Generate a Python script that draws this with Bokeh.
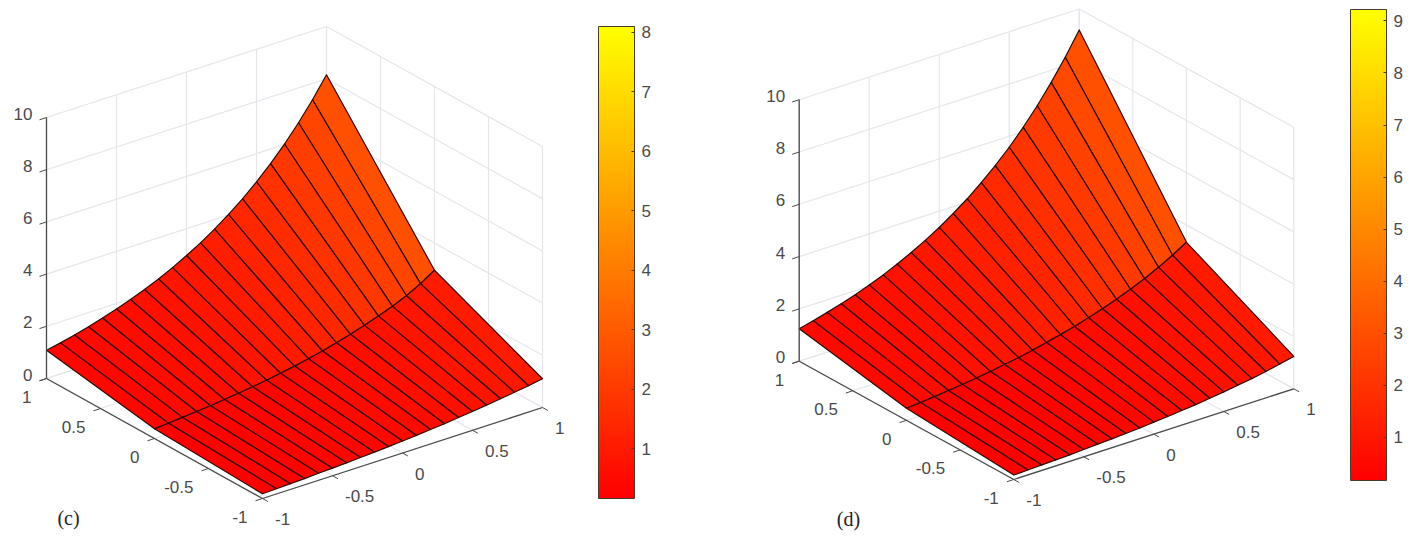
from bokeh.plotting import figure
from bokeh.layouts import row
from bokeh.models import ColumnDataSource, LinearColorMapper, ColorBar, FixedTicker
from bokeh.core.properties import value
from bokeh.embed import file_html
from bokeh.resources import INLINE

# ---- data ----
x_grid = [-1.0, -0.9, -0.8, -0.7, -0.6, -0.5, -0.4, -0.3, -0.2, -0.1, 0.0,
          0.1, 0.2, 0.3, 0.4, 0.5, 0.6, 0.7, 0.8, 0.9, 1.0]
y_grid = [-1.0, 0.0, 1.0]

c_z_ym1 = [.18, .20, .22, .24, .27, .29, .32, .35, .38, .42, .46, .50, .55, .60, .66, .72, .79, .86, .93, 1.01, 1.10]
c_z_y0 = [.37, .41, .46, .51, .56, .62, .69, .76, .84, .93, 1.03, 1.14, 1.26, 1.40, 1.55, 1.72, 1.90, 2.10, 2.33, 2.62, 2.96]
c_z_y1 = [1.08, 1.19, 1.32, 1.46, 1.62, 1.79, 1.98, 2.19, 2.42, 2.68, 2.97, 3.28, 3.63, 4.02, 4.44, 4.92, 5.44, 6.02, 6.66, 7.37, 8.15]

d_z_ym1 = [.17, .19, .21, .23, .25, .28, .31, .34, .37, .41, .46, .50, .56, .61, .68, .75, .83, .91, 1.01, 1.12, 1.24]
d_z_y0 = [.46, .51, .56, .62, .68, .75, .83, .92, 1.01, 1.12, 1.24, 1.37, 1.51, 1.67, 1.84, 2.03, 2.24, 2.47, 2.73, 3.02, 3.34]
d_z_y1 = [1.24, 1.37, 1.52, 1.68, 1.85, 2.05, 2.26, 2.50, 2.77, 3.06, 3.38, 3.74, 4.13, 4.57, 5.05, 5.58, 6.17, 6.82, 7.54, 8.33, 9.20]

xy_ticks = [-1, -0.5, 0, 0.5, 1]
xy_tick_labels = ["-1", "-0.5", "0", "0.5", "1"]
z_ticks = [0, 2, 4, 6, 8, 10]
z_tick_labels = ["0", "2", "4", "6", "8", "10"]
c_cbar_ticks = [1, 2, 3, 4, 5, 6, 7, 8]
d_cbar_ticks = [1, 2, 3, 4, 5, 6, 7, 8, 9]
c_clim = (0.165, 8.1)
d_clim = (0.17, 9.22)

# ---- style ----
FONT = value("Liberation Sans")
TXT = "#4a4a4a"
AXC = "#4a4a4a"
GRID = "#e4e6ea"
EDGE = "#300800"
autumn = ["#ff%02x00" % i for i in range(256)]
FIG_W, FIG_H = 704, 532
FS = "17px"


def panel(z_rows, clim, cbar_ticks, tag, tag_xy, B, ex, ey, ez, left, bar):
    def P(x, y, z):
        a, b = x + 1, y + 1
        return (B[0] + a * ex[0] + b * ey[0], B[1] + a * ex[1] + b * ey[1] + z * ez)

    p = figure(width=FIG_W, height=FIG_H, x_range=(left, left + FIG_W), y_range=(FIG_H, 0),
               output_backend="svg", toolbar_location=None, min_border=0)
    p.axis.visible = False
    p.grid.visible = False
    p.outline_line_color = None

    def seg(a, b, color, w):
        pa, pb = P(*a), P(*b)
        p.line([pa[0], pb[0]], [pa[1], pb[1]], line_color=color, line_width=w)

    # walls and floor grid
    for t in xy_ticks:
        seg((t, 1, 0), (t, 1, 10), GRID, 1.2)
        seg((1, t, 0), (1, t, 10), GRID, 1.2)
        seg((t, -1, 0), (t, 1, 0), GRID, 1.2)
        seg((-1, t, 0), (1, t, 0), GRID, 1.2)
    for t in z_ticks:
        seg((-1, 1, t), (1, 1, t), GRID, 1.2)
        seg((1, 1, t), (1, -1, t), GRID, 1.2)

    # surface, back cells first
    mapper = LinearColorMapper(palette=autumn, low=clim[0], high=clim[1])
    xs, ys, cs = [], [], []
    for j in range(len(y_grid) - 2, -1, -1):
        for i in range(len(x_grid) - 2, -1, -1):
            corners = [(i, j), (i + 1, j), (i + 1, j + 1), (i, j + 1)]
            pts = [P(x_grid[a], y_grid[b], z_rows[b][a]) for a, b in corners]
            xs.append([q[0] for q in pts])
            ys.append([q[1] for q in pts])
            cs.append(z_rows[j][i])
    src = ColumnDataSource(dict(xs=xs, ys=ys, c=cs))
    p.patches("xs", "ys", source=src, fill_color={"field": "c", "transform": mapper},
              line_color=EDGE, line_width=1.2, line_join="round")

    # axes and ticks
    seg((-1, 1, 0), (-1, -1, 0), AXC, 1.3)
    seg((-1, -1, 0), (1, -1, 0), AXC, 1.3)
    seg((-1, 1, 0), (-1, 1, 10), AXC, 1.3)
    for t, lab in zip(xy_ticks, xy_tick_labels):
        seg((t, -1, 0), (t, -1.05, 0), AXC, 1.0)
        seg((-1, t, 0), (-1.05, t, 0), AXC, 1.0)
        qx = P(t, -1, 0)
        p.text([qx[0] + 12.5], [qx[1] + 20.5], text=[lab], text_font=FONT, text_font_size=FS,
               text_color=TXT, text_align="left", text_baseline="middle")
        qy = P(-1, t, 0)
        p.text([qy[0] - 15], [qy[1] + 18.5], text=[lab], text_font=FONT, text_font_size=FS,
               text_color=TXT, text_align="right", text_baseline="middle")
    for t, lab in zip(z_ticks, z_tick_labels):
        seg((-1, 1, t), (-1.05, 1, t), AXC, 1.0)
        q = P(-1, 1, t)
        p.text([q[0] - 14], [q[1] - 4], text=[lab], text_font=FONT, text_font_size=FS,
               text_color=TXT, text_align="right", text_baseline="middle")

    p.text([tag_xy[0]], [tag_xy[1]], text=[tag], text_font=value("Liberation Serif"),
           text_font_size="20px", text_color="#222222", text_align="center", text_baseline="middle")

    cb = ColorBar(color_mapper=mapper, ticker=FixedTicker(ticks=cbar_ticks),
                  location=(bar[0] - left, FIG_H - bar[3]), width=bar[2] - bar[0], height=bar[3] - bar[1],
                  padding=0, margin=0, background_fill_color=None, border_line_color=None,
                  bar_line_color="#4a3a2a", bar_line_width=1,
                  major_tick_line_color="#4a3a2a", major_tick_in=3, major_tick_out=0,
                  minor_tick_line_color=None, label_standoff=7,
                  major_label_text_font="Liberation Sans", major_label_text_font_size=FS,
                  major_label_text_color=TXT)
    p.add_layout(cb, "center")
    return p


c_rows = [c_z_ym1, c_z_y0, c_z_y1]
d_rows = [d_z_ym1, d_z_y0, d_z_y1]

p1 = panel(c_rows, c_clim, c_cbar_ticks, "(c)", (68, 517), (262, 498), (140, -45.5), (-108, -60), -26.1, 0,
           (598, 26, 634, 498))
p2 = panel(d_rows, d_clim, d_cbar_ticks, "(d)", (848, 518), (1013.3, 479), (140, -45.35), (-107.3, -59.15), -26.15, 704,
           (1350, 9, 1386, 480))

layout = row(p1, p2, spacing=0)
open("out.html", "w").write(file_html(layout, INLINE))
